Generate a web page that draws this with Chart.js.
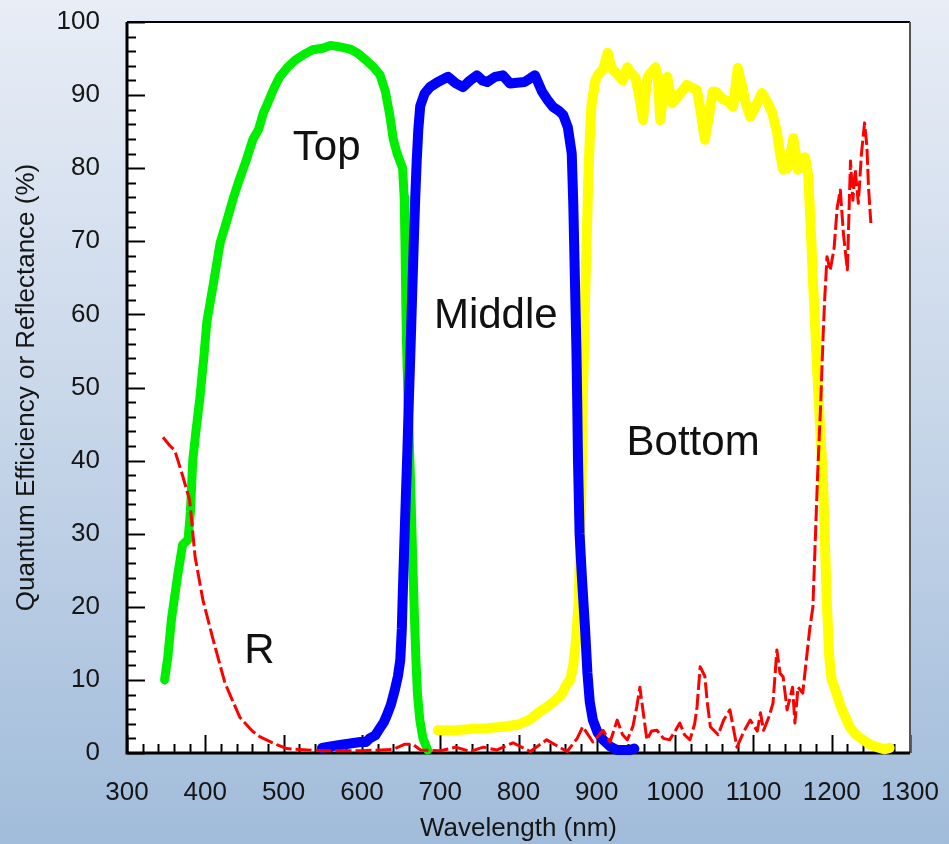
<!DOCTYPE html>
<html>
<head>
<meta charset="utf-8">
<script src="https://cdn.jsdelivr.net/npm/chart.js@4.4.1/dist/chart.umd.min.js"></script>
<style>
html,body{margin:0;padding:0;overflow:hidden;background:#c6d6e9;}
#wrap{width:949px;height:844px;}
</style>
</head>
<body>
<div id="wrap"><canvas id="c" width="949" height="844"></canvas></div>
<script>
// ---------- data (wavelength nm, percent) ----------
const topWavelength = [348,352,357,365,371,378,381,384,388,393,398,402,410,419,428,436,444,452,461,468,474,480,488,495,505,515,525,537,550,560,572,585,595,605,615,623,630,636,640,645,652,654,655,656,657,659,661,663,665,667,669,671,674,678,684];
const topValue      = [10,13,18.5,24.5,28.5,29.2,33,40,44,48.5,54,59,64,69.8,73,76,78.6,81,84,85.3,87.5,89,91,92.5,93.8,94.8,95.5,96.2,96.4,96.8,96.6,96.3,95.7,94.8,93.8,92.8,90.5,87,84,82,80,76,70,62,56,48,41,34,26,19,12.7,8,4.5,2,0.4];

const middleWavelength = [549,560,572,585,598,605,610,617,623,628,632,637,642,646,649,651,652,654,656,658,660,662,664,666,668,670,672,674.5,680,687,697,710,720,729,738,747,754,760,770,780,789,798,808,815,821,830,838,844,852,857,863,868,870,872,874,875,876,878,881,885,888,891,895,901,908,917,926,942,948];
const middleValue      = [0.7,0.9,1.1,1.3,1.5,1.5,2,2.4,3.4,4.2,5.2,6.6,8.6,10.5,12.7,17,21,28,34.6,41,48.3,55,62,69,75.6,81,85.2,88.5,90.2,91.1,91.8,92.5,91.6,91.1,92,92.7,92,91.8,92.5,92.7,91.6,91.7,91.8,92.3,92.7,90.5,89.2,88.4,87.8,87.3,85.6,82,75,65,55,48,40,30,24,17,11,7,4.5,2.8,1.8,0.9,0.4,0.4,0.6];

const bottomWavelength = [697,720,740,760,780,800,815,825,835,845,855,862,866,870,874,877,879,881,882,884,885,887,889,891,893,898,903,908,914,918,921,927,933,939,944,949,954,959,962,965,970,975,978,981,985,990,996,1005,1015,1022,1028,1033,1038,1043,1048,1053,1060,1067,1074,1077,1080,1085,1090,1096,1103,1111,1118,1124,1130,1134,1138,1144,1151,1154,1157,1162,1166,1170,1172,1174,1176,1179,1182,1185,1189,1191,1194,1197,1200,1205,1211,1217,1223,1230,1240,1250,1258,1268,1274];
const bottomValue      = [3.1,3.1,3.3,3.4,3.6,3.9,4.6,5.5,6.2,7,8,9.5,10,12,16,21,30,40,48,56,62,70,78,84,88.4,92,93,93.5,95.8,94,93.4,92.8,92,93.8,93,92.5,90,86.6,90,92.5,93.2,93.8,92.5,86.6,90,92.5,88.9,90,91.4,91,90.7,87.5,83.9,87,90.5,90.4,89.5,89.2,88.4,91,93.7,91.5,89,87,88.5,90.3,89,87.6,85,82,79.8,80,84.1,82,79.8,80.5,81.5,79,74.7,70,64.7,58,51,45,37,30,20,13,10,8.5,6.5,5,3.6,2.6,1.8,1.1,0.8,0.5,0.7];

const reflWavelength = [346,355,361,370,380,387,397,410,425,444,460,470,492,504,550,600,640,655,665,675,700,720,738,755,772,793,815,836,862,875,882,895,908,917,926,933,939,946,951,955,960,964,970,977,985,993,1000,1006,1012,1019,1025,1028,1032,1038,1041,1045,1055,1062,1070,1079,1088,1096,1105,1109,1113,1120,1125,1130,1134,1138,1143,1150,1153,1157,1163,1168,1172,1176,1182,1186,1189,1191,1194,1198,1203,1207,1211,1215,1220,1224,1227,1230,1234,1238,1242,1245,1247,1250];
const reflValue      = [43.2,42,41.4,38.3,34.6,26.8,20.9,15.5,9.6,4.9,3,2.2,1.1,0.6,0.3,0.3,0.5,1.2,1.2,0.4,0.3,0.8,0.2,0.8,0.4,1.4,0.2,1.8,0.2,2,3.6,1.5,3.1,1.5,4.5,2.5,1.8,3.6,6.3,9,5,1.8,3,3.1,2,1.8,3,4.1,2.5,1.8,4,6.3,11.8,10.5,7,3.6,2.5,4.5,5.9,0.8,3,4.5,3,5.5,3.1,5,6.8,14.1,10.9,10.4,5.9,9,4.1,9,8.2,13.1,17,20,38,48,57,62,67.9,66,69,74.6,77,71,66.1,81,75.6,79.8,75.2,82,86.2,82.9,77.4,72.5];

const xTickValues = [300,400,500,600,700,800,900,1000,1100,1200,1300];
const yTickValues = [0,10,20,30,40,50,60,70,80,90,100];

const labelTexts = ['Top','Middle','Bottom','R'];
const labelX     = [555,771,1023,469];
const labelY     = [81.1,58.1,40.8,12.3];

// ---------- helpers ----------
const pts = (xs, ys) => xs.map((x, i) => ({x, y: ys[i]}));
const FONT = '"Liberation Sans", Arial, Helvetica, sans-serif';

const bgPlugin = {
  id: 'bg',
  beforeDraw(chart) {
    const {ctx, width, height, chartArea: a} = chart;
    ctx.save();
    const g = ctx.createLinearGradient(0, 0, 0, height);
    g.addColorStop(0, '#e8edf6');
    g.addColorStop(0.5, '#c7d6e9');
    g.addColorStop(1, '#a1bcda');
    ctx.fillStyle = g;
    ctx.fillRect(0, 0, width, height);
    ctx.fillStyle = '#ffffff';
    ctx.fillRect(a.left, a.top, a.right - a.left, a.bottom - a.top);
    ctx.restore();
  }
};

const framePlugin = {
  id: 'frame',
  beforeDatasetsDraw(chart) {
    const {ctx, chartArea: a, scales: {x, y}} = chart;
    ctx.save();
    ctx.strokeStyle = '#000';
    ctx.lineWidth = 2;
    for (let v = x.min; v <= x.max + 0.001; v += 20) {
      const px = Math.round(x.getPixelForValue(v)) + 0.5;
      const len = (Math.round(v) % 100 === 0) ? 18 : 9;
      ctx.beginPath(); ctx.moveTo(px, a.bottom); ctx.lineTo(px, a.bottom - len); ctx.stroke();
    }
    for (let v = y.min; v <= y.max + 0.001; v += 2) {
      const py = Math.round(y.getPixelForValue(v)) + 0.5;
      const len = (Math.round(v) % 10 === 0) ? 18 : 9;
      ctx.beginPath(); ctx.moveTo(a.left, py); ctx.lineTo(a.left + len, py); ctx.stroke();
    }
    ctx.lineWidth = 2;
    ctx.beginPath(); ctx.moveTo(a.left, a.top); ctx.lineTo(a.right, a.top); ctx.stroke();
    ctx.strokeStyle = '#555';
    ctx.beginPath(); ctx.moveTo(a.right, a.top); ctx.lineTo(a.right, a.bottom); ctx.stroke();
    ctx.strokeStyle = '#000';
    ctx.lineWidth = 3;
    ctx.beginPath(); ctx.moveTo(a.left, a.top); ctx.lineTo(a.left, a.bottom); ctx.lineTo(a.right, a.bottom); ctx.stroke();
    ctx.restore();
  }
};

const labelPlugin = {
  id: 'curveLabels',
  afterDatasetsDraw(chart) {
    const {ctx, scales: {x, y}} = chart;
    ctx.save();
    ctx.font = '42px ' + FONT;
    ctx.fillStyle = '#111';
    ctx.textAlign = 'center';
    ctx.textBaseline = 'alphabetic';
    labelTexts.forEach((t, i) => {
      ctx.fillText(t, x.getPixelForValue(labelX[i]), y.getPixelForValue(labelY[i]));
    });
    ctx.restore();
  }
};

const lineBase = {
  fill: false, pointRadius: 0, pointHoverRadius: 0, tension: 0,
  borderCapStyle: 'round', borderJoinStyle: 'round', clip: false
};

new Chart(document.getElementById('c'), {
  type: 'line',
  data: {
    datasets: [
      Object.assign({}, lineBase, {label: 'R', data: pts(reflWavelength, reflValue), borderColor: '#ff0000', borderWidth: 3, borderDash: [16, 4], borderCapStyle: 'butt'}),
      Object.assign({}, lineBase, {label: 'Middle', data: pts(middleWavelength, middleValue), borderColor: '#0000ff', borderWidth: 10}),
      Object.assign({}, lineBase, {label: 'Top', data: pts(topWavelength, topValue), borderColor: '#00ee00', borderWidth: 9}),
      Object.assign({}, lineBase, {label: 'Bottom', data: pts(bottomWavelength, bottomValue), borderColor: '#ffff00', borderWidth: 10})
    ]
  },
  options: {
    responsive: false,
    animation: false,
    devicePixelRatio: 1,
    events: [],
    layout: {padding: {top: 22, right: 39, left: 0, bottom: 0}},
    plugins: {legend: {display: false}, tooltip: {enabled: false}},
    scales: {
      x: {
        type: 'linear', min: 300, max: 1300,
        grid: {display: false, drawTicks: true, tickLength: 24},
        border: {display: false},
        afterBuildTicks(s) { s.ticks = xTickValues.map(v => ({value: v})); },
        afterFit(s) { s.height = 91; },
        ticks: {color: '#151515', font: {family: FONT, size: 26}, padding: 0, maxRotation: 0, autoSkip: false, callback: v => String(v)},
        title: {display: true, text: 'Wavelength (nm)', color: '#151515', font: {family: FONT, size: 26}, padding: {top: 0, bottom: 0}}
      },
      y: {
        type: 'linear', min: 0, max: 100,
        grid: {display: false, drawTicks: true, tickLength: 27},
        border: {display: false},
        afterBuildTicks(s) { s.ticks = yTickValues.map(v => ({value: v})); },
        afterFit(s) { s.width = 127; },
        ticks: {color: '#151515', font: {family: FONT, size: 26}, padding: 0, callback: v => String(v)},
        title: {display: true, text: 'Quantum Efficiency or Reflectance (%)', color: '#151515', font: {family: FONT, size: 26}, padding: {top: 11, bottom: 0}}
      }
    }
  },
  plugins: [bgPlugin, framePlugin, labelPlugin]
});
</script>
</body>
</html>
